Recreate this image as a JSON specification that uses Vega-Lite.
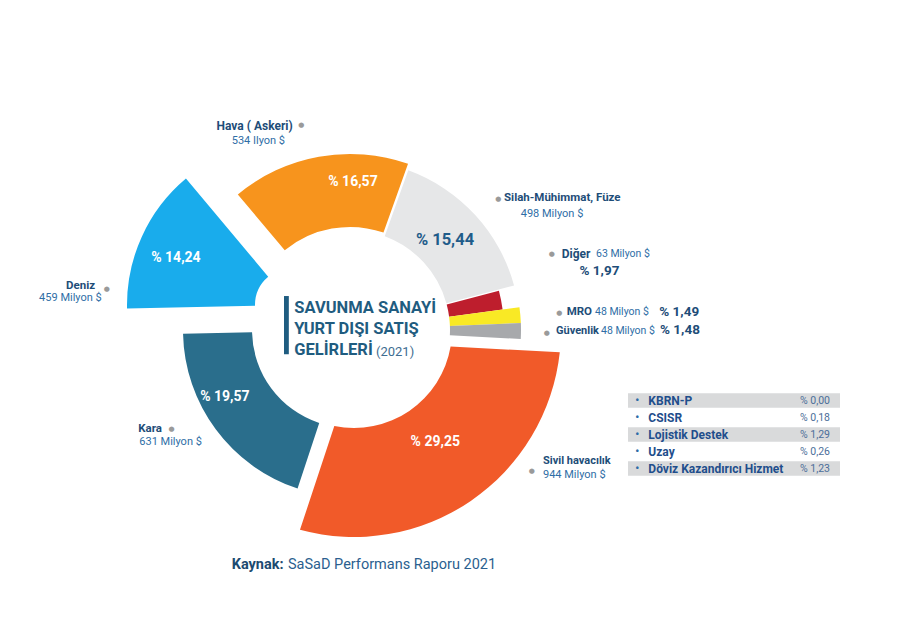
{
  "$schema": "https://vega.github.io/schema/vega-lite/v6.json",
  "width": 700,
  "height": 660,
  "autosize": {"type": "none"},
  "padding": {"left": 0, "top": 0, "right": 200, "bottom": 0},
  "background": "white",
  "config": {"view": {"stroke": null}, "text": {"font": "Roboto"}},
  "datasets": {
    "main": [
      {"name": "Hava ( Askeri)", "amount": "534 Ilyon $", "pct": 16.57, "pctText": "% 16,57"},
      {"name": "Silah-Mühimmat, Füze", "amount": "498 Milyon $", "pct": 15.44, "pctText": "% 15,44"},
      {"name": "Diğer", "amount": "63 Milyon $", "pct": 1.97, "pctText": "% 1,97"},
      {"name": "MRO", "amount": "48 Milyon $", "pct": 1.49, "pctText": "% 1,49"},
      {"name": "Güvenlik", "amount": "48 Milyon $", "pct": 1.48, "pctText": "% 1,48"},
      {"name": "Sivil havacılık", "amount": "944 Milyon $", "pct": 29.25, "pctText": "% 29,25"},
      {"name": "Kara", "amount": "631 Milyon $", "pct": 19.57, "pctText": "% 19,57"},
      {"name": "Deniz", "amount": "459 Milyon $", "pct": 14.24, "pctText": "% 14,24"}
    ],
    "other": [
      {"row": 1, "name": "KBRN-P", "pctText": "% 0,00"},
      {"row": 2, "name": "CSISR", "pctText": "% 0,18"},
      {"row": 3, "name": "Lojistik Destek", "pctText": "% 1,29"},
      {"row": 4, "name": "Uzay", "pctText": "% 0,26"},
      {"row": 5, "name": "Döviz Kazandırıcı Hizmet", "pctText": "% 1,23"}
    ]
  },
  "layer": [
    {
      "data": {"name": "main"},
      "transform": [
        {"stack": "pct", "groupby": [], "as": ["s0", "s1"]},
        {"calculate": "(datum.s0 + datum.s1) / 2", "as": "mid"}
      ],
      "layer": [
        {"transform": [{"filter": "datum.name === 'Hava ( Askeri)'"}],
         "mark": {"type": "arc", "innerRadius": 103, "outerRadius": 176, "padAngle": 0.012},
         "encoding": {"theta": {"field": "s0", "type": "quantitative", "stack": null, "scale": {"domain": [0, 100.01], "range": [-0.6981, 5.5851], "zero": false, "nice": false}}, "theta2": {"field": "s1"},
           "color": {"field": "name", "type": "nominal", "legend": null, "scale": {"domain": ["Hava ( Askeri)", "Silah-Mühimmat, Füze", "Diğer", "MRO", "Güvenlik", "Sivil havacılık", "Kara", "Deniz"], "range": ["#F7941D", "#E6E7E8", "#BE1E2D", "#F9E925", "#A7A9AC", "#F15A29", "#2A6E8C", "#19ACEC"]}}}},
        {"transform": [{"filter": "datum.name === 'Silah-Mühimmat, Füze'"}],
         "mark": {"type": "arc", "innerRadius": 100, "outerRadius": 170, "padAngle": 0.012},
         "encoding": {"theta": {"field": "s0", "type": "quantitative", "stack": null, "scale": {"domain": [0, 100.01], "range": [-0.6981, 5.5851], "zero": false, "nice": false}}, "theta2": {"field": "s1"},
           "color": {"field": "name", "type": "nominal", "legend": null}}},
        {"transform": [{"filter": "datum.name === 'Kara'"}],
         "mark": {"type": "arc", "innerRadius": 98, "outerRadius": 167},
         "encoding": {"theta": {"field": "s0", "type": "quantitative", "stack": null, "scale": {"domain": [0, 100.01], "range": [-0.6981, 5.5851], "zero": false, "nice": false}}, "theta2": {"field": "s1"},
           "color": {"field": "name", "type": "nominal", "legend": null}}},
        {"transform": [{"filter": "datum.name === 'Diğer'"}],
         "mark": {"type": "arc", "innerRadius": 100, "outerRadius": 154},
         "encoding": {"theta": {"field": "s0", "type": "quantitative", "stack": null, "scale": {"domain": [0, 100.01], "range": [-0.6981, 5.5851], "zero": false, "nice": false}}, "theta2": {"field": "s1"},
           "color": {"field": "name", "type": "nominal", "legend": null}}},
        {"transform": [{"filter": "datum.name === 'MRO' || datum.name === 'Güvenlik'"}],
         "mark": {"type": "arc", "innerRadius": 100, "outerRadius": 171},
         "encoding": {"theta": {"field": "s0", "type": "quantitative", "stack": null, "scale": {"domain": [0, 100.01], "range": [-0.6981, 5.5851], "zero": false, "nice": false}}, "theta2": {"field": "s1"},
           "color": {"field": "name", "type": "nominal", "legend": null}}},
        {"transform": [{"filter": "datum.name === 'Sivil havacılık'"}],
         "mark": {"type": "arc", "innerRadius": 98, "outerRadius": 207, "padAngle": 0.1, "xOffset": 4},
         "encoding": {"theta": {"field": "s0", "type": "quantitative", "stack": null, "scale": {"domain": [0, 100.01], "range": [-0.6981, 5.5851], "zero": false, "nice": false}}, "theta2": {"field": "s1"},
           "color": {"field": "name", "type": "nominal", "legend": null}}},
        {"transform": [{"filter": "datum.name === 'Deniz'"}],
         "mark": {"type": "arc", "innerRadius": 37, "outerRadius": 165, "xOffset": -58, "yOffset": -25},
         "encoding": {"theta": {"field": "s0", "type": "quantitative", "stack": null, "scale": {"domain": [0, 100.01], "range": [-0.6981, 5.5851], "zero": false, "nice": false}}, "theta2": {"field": "s1"},
           "color": {"field": "name", "type": "nominal", "legend": null}}},

        {"transform": [{"filter": "datum.name === 'Hava ( Askeri)'"}],
         "encoding": {"theta": {"field": "mid", "type": "quantitative", "stack": null, "scale": {"domain": [0, 100.01], "range": [-0.6981, 5.5851], "zero": false, "nice": false}}, "radius": {"value": 211}},
         "layer": [
           {"mark": {"type": "text", "align": "right", "baseline": "middle", "dx": -20, "dy": 3.2, "fontSize": 12, "fontWeight": "bold", "color": "#1E4D78"}, "encoding": {"text": {"field": "name"}}},
           {"mark": {"type": "text", "align": "right", "baseline": "middle", "dx": -27.7, "dy": 18.7, "fontSize": 11, "color": "#2F6EA6"}, "encoding": {"text": {"field": "amount"}}},
           {"mark": {"type": "text", "align": "center", "baseline": "middle", "dx": -11.4, "dy": 3, "fontSize": 7, "font": "DejaVu Sans", "color": "#9A9A9A", "text": "●"}},
           {"mark": {"type": "text", "align": "center", "baseline": "middle", "dx": 28.6, "dy": -5.6, "fontSize": 14, "fontWeight": "bold", "color": "white"}, "encoding": {"radius": {"value": 145}, "text": {"field": "pctText"}}}
         ]},
        {"transform": [{"filter": "datum.name === 'Silah-Mühimmat, Füze'"}],
         "encoding": {"theta": {"field": "mid", "type": "quantitative", "stack": null, "scale": {"domain": [0, 100.01], "range": [-0.6981, 5.5851], "zero": false, "nice": false}}, "radius": {"value": 203}},
         "layer": [
           {"mark": {"type": "text", "align": "left", "baseline": "middle", "dx": 4.5, "dy": 5.6, "fontSize": 11.5, "fontWeight": "bold", "color": "#1E4D78"}, "encoding": {"text": {"field": "name"}}},
           {"mark": {"type": "text", "align": "left", "baseline": "middle", "dx": 21.2, "dy": 21, "fontSize": 11, "color": "#2F6EA6"}, "encoding": {"text": {"field": "amount"}}},
           {"mark": {"type": "text", "align": "center", "baseline": "middle", "dx": -1.2, "dy": 6.6, "fontSize": 7, "font": "DejaVu Sans", "color": "#9A9A9A", "text": "●"}},
           {"mark": {"type": "text", "align": "center", "baseline": "middle", "dx": -1.5, "dy": -1.7, "fontSize": 16.5, "fontWeight": "bold", "color": "#1F5C8A"}, "encoding": {"radius": {"value": 131}, "text": {"field": "pctText"}}}
         ]},
        {"transform": [{"filter": "datum.name === 'Diğer'"}],
         "encoding": {"theta": {"field": "mid", "type": "quantitative", "stack": null, "scale": {"domain": [0, 100.01], "range": [-0.6981, 5.5851], "zero": false, "nice": false}}, "radius": {"value": 215}},
         "layer": [
           {"mark": {"type": "text", "align": "left", "baseline": "middle", "dx": 0.8, "dy": -34.1, "fontSize": 12, "fontWeight": "bold", "color": "#1E4D78"}, "encoding": {"text": {"field": "name"}}},
           {"mark": {"type": "text", "align": "left", "baseline": "middle", "dx": 35.1, "dy": -34.1, "fontSize": 10.5, "color": "#2F6EA6"}, "encoding": {"text": {"field": "amount"}}},
           {"mark": {"type": "text", "align": "center", "baseline": "middle", "dx": -9.2, "dy": -34.1, "fontSize": 7, "font": "DejaVu Sans", "color": "#9A9A9A", "text": "●"}},
           {"mark": {"type": "text", "align": "center", "baseline": "middle", "dx": 38.6, "dy": -17.1, "fontSize": 13.5, "fontWeight": "bold", "color": "#1E4D78"}, "encoding": {"text": {"field": "pctText"}}}
         ]},
        {"transform": [{"filter": "datum.name === 'MRO'"}],
         "encoding": {"theta": {"field": "mid", "type": "quantitative", "stack": null, "scale": {"domain": [0, 100.01], "range": [-0.6981, 5.5851], "zero": false, "nice": false}}, "radius": {"value": 217}},
         "layer": [
           {"mark": {"type": "text", "align": "left", "baseline": "middle", "dx": 0.5, "dy": 1.4, "fontSize": 11.5, "fontWeight": "bold", "color": "#1E4D78"}, "encoding": {"text": {"field": "name"}}},
           {"mark": {"type": "text", "align": "left", "baseline": "middle", "dx": 28.8, "dy": 1.4, "fontSize": 10.5, "color": "#2F6EA6"}, "encoding": {"text": {"field": "amount"}}},
           {"mark": {"type": "text", "align": "center", "baseline": "middle", "dx": -6.9, "dy": 2.2, "fontSize": 7, "font": "DejaVu Sans", "color": "#9A9A9A", "text": "●"}},
           {"mark": {"type": "text", "align": "left", "baseline": "middle", "dx": 93.1, "dy": 0.9, "fontSize": 13.5, "fontWeight": "bold", "color": "#1E4D78"}, "encoding": {"text": {"field": "pctText"}}}
         ]},
        {"transform": [{"filter": "datum.name === 'Güvenlik'"}],
         "encoding": {"theta": {"field": "mid", "type": "quantitative", "stack": null, "scale": {"domain": [0, 100.01], "range": [-0.6981, 5.5851], "zero": false, "nice": false}}, "radius": {"value": 206}},
         "layer": [
           {"mark": {"type": "text", "align": "left", "baseline": "middle", "dx": 0, "dy": -0.2, "fontSize": 11, "fontWeight": "bold", "color": "#1E4D78"}, "encoding": {"text": {"field": "name"}}},
           {"mark": {"type": "text", "align": "left", "baseline": "middle", "dx": 45, "dy": -0.2, "fontSize": 10.5, "color": "#2F6EA6"}, "encoding": {"text": {"field": "amount"}}},
           {"mark": {"type": "text", "align": "center", "baseline": "middle", "dx": -9.3, "dy": 1.5, "fontSize": 7, "font": "DejaVu Sans", "color": "#9A9A9A", "text": "●"}},
           {"mark": {"type": "text", "align": "left", "baseline": "middle", "dx": 104, "dy": -0.8, "fontSize": 13.5, "fontWeight": "bold", "color": "#1E4D78"}, "encoding": {"text": {"field": "pctText"}}}
         ]},
        {"transform": [{"filter": "datum.name === 'Sivil havacılık'"}],
         "encoding": {"theta": {"field": "mid", "type": "quantitative", "stack": null, "scale": {"domain": [0, 100.01], "range": [-0.6981, 5.5851], "zero": false, "nice": false}}, "radius": {"value": 218}},
         "layer": [
           {"mark": {"type": "text", "align": "left", "baseline": "middle", "dx": 70, "dy": -48.7, "fontSize": 11, "fontWeight": "bold", "color": "#1E4D78"}, "encoding": {"text": {"field": "name"}}},
           {"mark": {"type": "text", "align": "left", "baseline": "middle", "dx": 70, "dy": -34.7, "fontSize": 11, "color": "#2F6EA6"}, "encoding": {"text": {"field": "amount"}}},
           {"mark": {"type": "text", "align": "center", "baseline": "middle", "dx": 58.7, "dy": -39.3, "fontSize": 7, "font": "DejaVu Sans", "color": "#9A9A9A", "text": "●"}},
           {"mark": {"type": "text", "align": "center", "baseline": "middle", "dx": 6.9, "dy": -3.1, "fontSize": 14, "fontWeight": "bold", "color": "white"}, "encoding": {"radius": {"value": 139}, "text": {"field": "pctText"}}}
         ]},
        {"transform": [{"filter": "datum.name === 'Kara'"}],
         "encoding": {"theta": {"field": "mid", "type": "quantitative", "stack": null, "scale": {"domain": [0, 100.01], "range": [-0.6981, 5.5851], "zero": false, "nice": false}}, "radius": {"value": 230}},
         "layer": [
           {"mark": {"type": "text", "align": "left", "baseline": "middle", "dx": -26.8, "dy": -37.8, "fontSize": 11.5, "fontWeight": "bold", "color": "#1E4D78"}, "encoding": {"text": {"field": "name"}}},
           {"mark": {"type": "text", "align": "left", "baseline": "middle", "dx": -25.8, "dy": -24.3, "fontSize": 11, "color": "#2F6EA6"}, "encoding": {"text": {"field": "amount"}}},
           {"mark": {"type": "text", "align": "center", "baseline": "middle", "dx": 6.6, "dy": -37.5, "fontSize": 7, "font": "DejaVu Sans", "color": "#9A9A9A", "text": "●"}},
           {"mark": {"type": "text", "align": "center", "baseline": "middle", "dx": -12.5, "dy": -16.6, "fontSize": 14, "fontWeight": "bold", "color": "white"}, "encoding": {"radius": {"value": 140}, "text": {"field": "pctText"}}}
         ]},
        {"transform": [{"filter": "datum.name === 'Deniz'"}],
         "encoding": {"theta": {"field": "mid", "type": "quantitative", "stack": null, "scale": {"domain": [0, 100.01], "range": [-0.6981, 5.5851], "zero": false, "nice": false}}, "radius": {"value": 245}},
         "layer": [
           {"mark": {"type": "text", "align": "right", "baseline": "middle", "dx": -31.8, "dy": 57.1, "fontSize": 11.5, "fontWeight": "bold", "color": "#1E4D78"}, "encoding": {"text": {"field": "name"}}},
           {"mark": {"type": "text", "align": "right", "baseline": "middle", "dx": -25.1, "dy": 69.6, "fontSize": 11, "color": "#2F6EA6"}, "encoding": {"text": {"field": "amount"}}},
           {"mark": {"type": "text", "align": "center", "baseline": "middle", "dx": -20.1, "dy": 60.4, "fontSize": 7, "font": "DejaVu Sans", "color": "#9A9A9A", "text": "●"}},
           {"mark": {"type": "text", "align": "center", "baseline": "middle", "dx": -2.8, "dy": 5.1, "fontSize": 14, "fontWeight": "bold", "color": "white"}, "encoding": {"radius": {"value": 188}, "text": {"field": "pctText"}}}
         ]}
      ]
    },
    {
      "data": {"name": "other"},
      "encoding": {
        "y": {"field": "name", "type": "nominal", "axis": null, "scale": {"domain": ["KBRN-P", "CSISR", "Lojistik Destek", "Uzay", "Döviz Kazandırıcı Hizmet"], "range": [392, 477], "paddingInner": 0.15, "paddingOuter": 0.075}}
      },
      "layer": [
        {"transform": [{"filter": "datum.row % 2 === 1"}],
         "mark": {"type": "rect", "color": "#D9DADB"},
         "encoding": {"x": {"datum": 0, "type": "quantitative", "axis": null, "scale": {"domain": [0, 100], "range": [628, 840]}}, "x2": {"datum": 100}}},
        {"mark": {"type": "text", "align": "center", "baseline": "middle", "fontSize": 11, "fontWeight": "bold", "color": "#2D6CA8", "text": "•"},
         "encoding": {"x": {"datum": 4.4, "type": "quantitative"}}},
        {"mark": {"type": "text", "align": "left", "baseline": "middle", "fontSize": 12, "fontWeight": "bold", "color": "#1F4E8C"},
         "encoding": {"x": {"datum": 9.6, "type": "quantitative"}, "text": {"field": "name"}}},
        {"mark": {"type": "text", "align": "right", "baseline": "middle", "fontSize": 10.5, "color": "#4C6E9A"},
         "encoding": {"x": {"datum": 95.3, "type": "quantitative"}, "text": {"field": "pctText"}}}
      ]
    },
    {
      "data": {"values": [{}]},
      "layer": [
        {"mark": {"type": "text", "align": "right", "baseline": "middle", "dx": -61.5, "dy": -3.3, "font": "DejaVu Sans", "fontSize": 49, "color": "#1F5C80", "text": "▕"}},
        {"mark": {"type": "text", "align": "left", "baseline": "alphabetic", "dx": -55.7, "dy": -16.7, "lineHeight": 21, "fontSize": 16.5, "fontWeight": "bold", "color": "#1F5C80", "text": ["SAVUNMA SANAYİ", "YURT DIŞI SATIŞ", "GELİRLERİ"]}},
        {"mark": {"type": "text", "align": "left", "baseline": "alphabetic", "dx": 26, "dy": 26, "fontSize": 13, "color": "#3E6D91", "text": "(2021)"}},
        {"mark": {"type": "text", "align": "left", "baseline": "alphabetic", "dx": -118.3, "dy": 238.7, "fontSize": 14.5, "fontWeight": "bold", "color": "#1C4A70", "text": "Kaynak:"}},
        {"mark": {"type": "text", "align": "left", "baseline": "alphabetic", "dx": -62, "dy": 238.7, "fontSize": 14.5, "color": "#2B5F8F", "text": "SaSaD Performans Raporu 2021"}}
      ]
    }
  ]
}
